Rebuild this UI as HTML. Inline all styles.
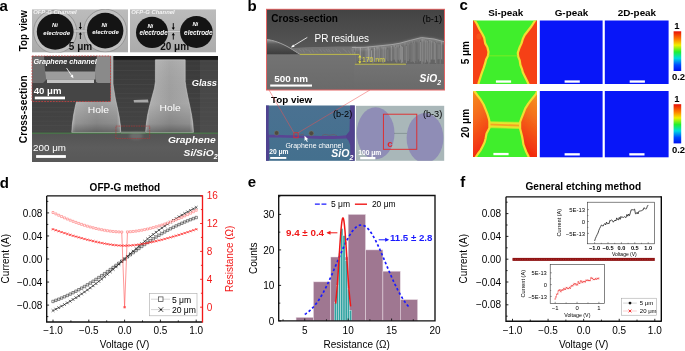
<!DOCTYPE html>
<html><head><meta charset="utf-8"><style>
html,body{margin:0;padding:0;background:#fff;}
svg{display:block;will-change:transform;}
text{font-family:"Liberation Sans",sans-serif;}
</style></head><body>
<svg width="685" height="351" viewBox="0 0 685 351">
<rect width="685" height="351" fill="#fff"/>
<text x="-0.5" y="10.5" font-size="15" fill="#000" font-weight="bold" font-style="normal" text-anchor="start" >a</text>
<text x="247.5" y="10.6" font-size="15" fill="#000" font-weight="bold" font-style="normal" text-anchor="start" >b</text>
<text x="459.5" y="10.3" font-size="15" fill="#000" font-weight="bold" font-style="normal" text-anchor="start" >c</text>
<text x="-0.3" y="187.5" font-size="15" fill="#000" font-weight="bold" font-style="normal" text-anchor="start" >d</text>
<text x="247.7" y="187.3" font-size="15" fill="#000" font-weight="bold" font-style="normal" text-anchor="start" >e</text>
<text x="460.2" y="186.8" font-size="15" fill="#000" font-weight="bold" font-style="normal" text-anchor="start" >f</text>
<text transform="translate(27.3,30.65) scale(1.08,1) rotate(-90)" x="0" y="0" font-size="9.8" fill="#000" font-weight="bold" font-style="normal" text-anchor="middle">Top view</text>
<text transform="translate(27.2,109.2) scale(1.08,1) rotate(-90)" x="0" y="0" font-size="10.2" fill="#000" font-weight="bold" font-style="normal" text-anchor="middle">Cross-section</text>
<defs><linearGradient id="tvbg" x1="0" y1="0" x2="0" y2="1"><stop offset="0" stop-color="#bcbcbc"/><stop offset="1" stop-color="#ababab"/></linearGradient></defs>
<clipPath id="tv32"><rect x="32" y="9.2" width="96" height="43.4"/></clipPath>
<g clip-path="url(#tv32)">
<rect x="32" y="9.2" width="96" height="43.4" fill="url(#tvbg)"/>
<circle cx="55.2" cy="31.7" r="21.599999999999998" fill="#c0c0c0" stroke="#8e8e8e" stroke-width="0.8"/>
<circle cx="105.2" cy="30.6" r="21.4" fill="#c0c0c0" stroke="#8e8e8e" stroke-width="0.8"/>
<rect x="55.2" y="30" width="50.0" height="2" fill="#cfcfcf" stroke="#888" stroke-width="0.4"/>
<ellipse cx="55.2" cy="31.7" rx="18.4" ry="18.0" fill="#141414"/>
<text x="54.9" y="27.4" font-size="5.8" fill="#fff" font-weight="bold" font-style="italic" text-anchor="middle" >Ni</text>
<text x="56.7" y="34.9" font-size="6.0" fill="#fff" font-weight="bold" font-style="italic" text-anchor="middle" >electrode</text>
<ellipse cx="105.2" cy="30.6" rx="18.2" ry="17.8" fill="#141414"/>
<text x="104.3" y="26.9" font-size="5.8" fill="#fff" font-weight="bold" font-style="italic" text-anchor="middle" >Ni</text>
<text x="105.5" y="34.2" font-size="6.0" fill="#fff" font-weight="bold" font-style="italic" text-anchor="middle" >electrode</text>
<text x="33.2" y="14.4" font-size="5.9" fill="#f4f4f4" font-weight="bold" font-style="italic" text-anchor="start" >OFP-G Channel</text>
</g>
<path d="M80.4,22.5 v5.5 M80.4,39 v-5.5" stroke="#000" stroke-width="0.9" fill="none"/>
<path d="M78.80000000000001,27 L80.4,29.4 L82.0,27 Z M78.80000000000001,34.6 L80.4,32.2 L82.0,34.6 Z" fill="#000"/>
<text x="68.8" y="49.6" font-size="10" fill="#111" font-weight="bold" font-style="normal" text-anchor="start" >5 μm</text>
<clipPath id="tv130"><rect x="130" y="9.2" width="86" height="43.4"/></clipPath>
<g clip-path="url(#tv130)">
<rect x="130" y="9.2" width="86" height="43.4" fill="url(#tvbg)"/>
<rect x="152" y="30.6" width="44.400000000000006" height="2" fill="#cfcfcf" stroke="#888" stroke-width="0.4"/>
<ellipse cx="152" cy="32.4" rx="16" ry="15.6" fill="#141414"/>
<text x="150.3" y="27.6" font-size="5.8" fill="#fff" font-weight="bold" font-style="italic" text-anchor="middle" >Ni</text>
<text x="153.6" y="34.9" font-size="6.4" fill="#fff" font-weight="bold" font-style="italic" text-anchor="middle" >electrode</text>
<ellipse cx="196.4" cy="32" rx="16.3" ry="15.9" fill="#141414"/>
<text x="195.3" y="26.4" font-size="5.8" fill="#fff" font-weight="bold" font-style="italic" text-anchor="middle" >Ni</text>
<text x="198.3" y="34.8" font-size="6.4" fill="#fff" font-weight="bold" font-style="italic" text-anchor="middle" >electrode</text>
<text x="131.2" y="14.4" font-size="5.9" fill="#f4f4f4" font-weight="bold" font-style="italic" text-anchor="start" >OFP-G Channel</text>
</g>
<path d="M173.3,23.1 v5.5 M173.3,39.6 v-5.5" stroke="#000" stroke-width="0.9" fill="none"/>
<path d="M171.70000000000002,27.6 L173.3,30.0 L174.9,27.6 Z M171.70000000000002,35.2 L173.3,32.800000000000004 L174.9,35.2 Z" fill="#000"/>
<text x="160.2" y="49.6" font-size="10" fill="#111" font-weight="bold" font-style="normal" text-anchor="start" >20 μm</text>
<defs>
<filter id="blur2" x="-50%" y="-50%" width="200%" height="200%"><feGaussianBlur stdDeviation="1.5"/></filter>
<linearGradient id="glass" x1="0" y1="0" x2="0" y2="1">
<stop offset="0" stop-color="#393939"/><stop offset="0.6" stop-color="#434343"/><stop offset="1" stop-color="#4c4c4c"/></linearGradient>
<linearGradient id="sub" x1="0" y1="0" x2="0" y2="1">
<stop offset="0" stop-color="#545454"/><stop offset="0.5" stop-color="#5c5c5c"/><stop offset="1" stop-color="#585858"/></linearGradient>
<linearGradient id="pill" x1="0" y1="0" x2="1" y2="0">
<stop offset="0" stop-color="#d6d6d6"/><stop offset="0.08" stop-color="#b4b4b4"/><stop offset="0.5" stop-color="#a2a2a2"/><stop offset="0.92" stop-color="#acacac"/><stop offset="1" stop-color="#dadada"/></linearGradient>
<linearGradient id="pillv" x1="0" y1="0" x2="0" y2="1">
<stop offset="0" stop-color="#fff" stop-opacity="0.08"/><stop offset="0.6" stop-color="#000" stop-opacity="0.02"/><stop offset="0.88" stop-color="#000" stop-opacity="0.18"/><stop offset="1" stop-color="#000" stop-opacity="0.4"/></linearGradient>
</defs>
<rect x="32" y="56" width="186" height="106" fill="url(#glass)"/>
<rect x="32" y="56" width="186" height="3.8" fill="#171717"/>
<rect x="32" y="61.0" width="186" height="0.7" fill="#626262" opacity="0.15"/>
<rect x="32" y="65.6" width="186" height="0.7" fill="#626262" opacity="0.22"/>
<rect x="32" y="70.2" width="186" height="0.7" fill="#626262" opacity="0.30"/>
<rect x="32" y="74.8" width="186" height="0.7" fill="#626262" opacity="0.15"/>
<rect x="32" y="79.4" width="186" height="0.7" fill="#626262" opacity="0.22"/>
<rect x="32" y="84.0" width="186" height="0.7" fill="#626262" opacity="0.30"/>
<rect x="32" y="88.6" width="186" height="0.7" fill="#626262" opacity="0.15"/>
<rect x="32" y="93.2" width="186" height="0.7" fill="#626262" opacity="0.22"/>
<rect x="32" y="97.8" width="186" height="0.7" fill="#626262" opacity="0.30"/>
<rect x="32" y="102.4" width="186" height="0.7" fill="#626262" opacity="0.15"/>
<rect x="32" y="107.0" width="186" height="0.7" fill="#626262" opacity="0.22"/>
<rect x="32" y="111.6" width="186" height="0.7" fill="#626262" opacity="0.30"/>
<rect x="32" y="116.2" width="186" height="0.7" fill="#626262" opacity="0.15"/>
<rect x="32" y="120.8" width="186" height="0.7" fill="#626262" opacity="0.22"/>
<rect x="32" y="125.4" width="186" height="0.7" fill="#626262" opacity="0.30"/>
<rect x="32" y="130.0" width="186" height="0.7" fill="#626262" opacity="0.15"/>
<rect x="200" y="60" width="18" height="73" fill="#5a5a5a" opacity="0.35"/>
<rect x="32" y="133.5" width="186" height="28.5" fill="url(#sub)"/>
<path d="M80,56 L80,84 L79.2,90 L77.6,97 L75.4,106 L73.6,115 L72.4,124 L71.8,132.5 L120.7,132.5 L120.3,125 L119.2,117 L117.4,108 L115.4,99 L113.9,90 L113,84 L113,56 Z" fill="url(#pill)"/>
<path d="M80,56 L80,84 L79.2,90 L77.6,97 L75.4,106 L73.6,115 L72.4,124 L71.8,132.5 L120.7,132.5 L120.3,125 L119.2,117 L117.4,108 L115.4,99 L113.9,90 L113,84 L113,56 Z" fill="url(#pillv)" stroke="#cfcfcf" stroke-width="0.7" stroke-opacity="0.8"/>
<path d="M155.4,59.8 L155.4,81.6 L154.5,88 L152.3,96 L149.6,106 L147.5,115.5 L146.3,124 L145.7,132.5 L193.4,132.5 L192.9,124 L191.7,115.5 L189.8,106 L187.6,96 L186.1,88 L185.2,81.6 L185.2,59.8 Z" fill="url(#pill)"/>
<path d="M155.4,59.8 L155.4,81.6 L154.5,88 L152.3,96 L149.6,106 L147.5,115.5 L146.3,124 L145.7,132.5 L193.4,132.5 L192.9,124 L191.7,115.5 L189.8,106 L187.6,96 L186.1,88 L185.2,81.6 L185.2,59.8 Z" fill="url(#pillv)" stroke="#cfcfcf" stroke-width="0.7" stroke-opacity="0.8"/>
<path d="M133.6,100 L148,99.6 L148.5,102.4 L134,102.6 Z" fill="#a8a8a8"/>
<rect x="32" y="132.7" width="186" height="0.9" fill="#4a8a4a"/>
<path d="M121,131.6 L145.5,131.6 L145.5,133.4 L121,133.4 Z" fill="#8a9a8a" opacity="0.8"/>
<ellipse cx="136" cy="136" rx="7" ry="3.5" fill="#8a8a8a" opacity="0.45" filter="url(#blur2)"/>
<rect x="115.9" y="126.1" width="33.8" height="12.4" fill="none" stroke="#b83232" stroke-width="0.6" stroke-dasharray="1.6,0.9"/>
<text transform="translate(87.7,113.1) scale(1.1,1)" x="0" y="0" font-size="9.4" fill="#fff" font-weight="normal" font-style="normal" text-anchor="start" >Hole</text>
<text transform="translate(159.6,111.4) scale(1.1,1)" x="0" y="0" font-size="9.4" fill="#fff" font-weight="normal" font-style="normal" text-anchor="start" >Hole</text>
<text x="217" y="86.3" font-size="9.3" fill="#fff" font-weight="bold" font-style="italic" text-anchor="end" >Glass</text>
<text transform="translate(215.6,143.4) scale(1.1,1)" x="0" y="0" font-size="9.3" fill="#fff" font-weight="bold" font-style="italic" text-anchor="end" >Graphene</text>
<text transform="translate(183.6,156.2) scale(1.1,1)" x="0" y="0" font-size="9.3" fill="#fff" font-weight="bold" font-style="italic" text-anchor="start" >Si/SiO<tspan font-size="6.5" dy="2.6">2</tspan></text>
<text x="33.1" y="151.2" font-size="9.8" fill="#fff" font-weight="normal" font-style="normal" text-anchor="start" >200 μm</text>
<rect x="36.1" y="155.1" width="29.8" height="2.8" fill="#fff"/>
<defs><linearGradient id="insbg" x1="0" y1="0" x2="0" y2="1"><stop offset="0" stop-color="#3a3a3a"/><stop offset="1" stop-color="#4a4a4a"/></linearGradient></defs>
<rect x="32" y="56" width="78.5" height="45.5" fill="url(#insbg)"/>
<path d="M32,56 L44,56 L45,70 L46,80 L40,86 L32,90 Z" fill="#6e6e6e"/>
<path d="M97,56 L110.5,56 L110.5,92 L103,86 L96,82 L95,70 Z" fill="#8a8a8a"/>
<path d="M45,71.5 L95.5,71.5 L95.5,79.5 L46,79.5 Z" fill="#9c9c9c"/>
<path d="M47,79.5 L94,79.5 L94,83 L47,83 Z" fill="#c2c2c2"/>
<path d="M32,83 L110.5,83 L110.5,101.5 L32,101.5 Z" fill="#454545"/>
<rect x="32" y="56" width="78.5" height="45.5" fill="none" stroke="#c84040" stroke-width="0.8" stroke-dasharray="1.8,1.1"/>
<text transform="translate(33.4,63.8) scale(1.04,1)" x="0" y="0" font-size="7" fill="#fff" font-weight="bold" font-style="italic" text-anchor="start" >Graphene channel</text>
<path d="M66.5,68 L72.6,77" stroke="#fff" stroke-width="0.8" fill="none"/><path d="M73.4,78.2 L70.4,76.2 L72.9,74.6 Z" fill="#fff"/>
<text x="33.7" y="93.6" font-size="9.6" fill="#fff" font-weight="bold" font-style="normal" text-anchor="start" >40 μm</text>
<rect x="34.8" y="96.6" width="30.2" height="2.7" fill="#fff"/>
<defs>
<linearGradient id="b1top" x1="0" y1="0" x2="0" y2="1">
<stop offset="0" stop-color="#434343"/><stop offset="0.35" stop-color="#505050"/><stop offset="0.75" stop-color="#636363"/><stop offset="1" stop-color="#6e6e6e"/></linearGradient>
<linearGradient id="b1bot" x1="0" y1="0" x2="0" y2="1">
<stop offset="0" stop-color="#737373"/><stop offset="1" stop-color="#6a6a6a"/></linearGradient>
<pattern id="stri" x="0" y="0" width="2.6" height="30" patternUnits="userSpaceOnUse">
<rect width="2.6" height="30" fill="#6e6e6e"/><rect x="0.3" width="1.2" height="30" fill="#989898"/></pattern>
<linearGradient id="resL" x1="0" y1="0" x2="0" y2="1">
<stop offset="0" stop-color="#9a9a9a"/><stop offset="0.3" stop-color="#5a5a5a"/><stop offset="1" stop-color="#3c3c3c"/></linearGradient>
</defs>
<rect x="266.5" y="9" width="178" height="81" fill="url(#b1top)"/>
<path d="M290,48 C310,47 330,46.5 356,46.5 L356,54.4 L290,54.4 Z" fill="#747474"/>
<path d="M266.5,39.5 C273,40 281,43 289,47.5 C294,50.5 297,52.6 300,54.4 L266.5,54.4 Z" fill="url(#resL)"/>
<path d="M266.5,39.5 C273,40 281,43 289,47.5 C294,50.5 297,52.6 300,54.4" fill="none" stroke="#a0a0a0" stroke-width="1"/>
<path d="M352,47.5 L365,47.3 L380,45.8 L392,44.6 L400,43.2 L410.3,40.4 L421.5,37.6 L434,39 L444.5,41.8 L444.5,64 L354,64 Z" fill="#646464"/>
<path d="M353.0,48.6 V62.2" stroke="#9b9b9b" stroke-width="0.75"/><path d="M354.4,51.6 V63.9" stroke="#9d9d9d" stroke-width="0.63"/><path d="M355.8,47.7 V63.2" stroke="#9d9d9d" stroke-width="0.59"/><path d="M357.3,49.9 V61.1" stroke="#8c8c8c" stroke-width="0.41"/><path d="M358.2,48.2 V59.7" stroke="#858585" stroke-width="0.59"/><path d="M359.5,48.0 V60.9" stroke="#787878" stroke-width="0.46"/><path d="M360.3,47.4 V60.1" stroke="#ababab" stroke-width="0.88"/><path d="M361.3,48.7 V59.2" stroke="#7e7e7e" stroke-width="0.67"/><path d="M362.5,48.2 V59.2" stroke="#818181" stroke-width="0.50"/><path d="M364.0,48.7 V62.2" stroke="#8c8c8c" stroke-width="0.48"/><path d="M364.9,48.8 V59.9" stroke="#787878" stroke-width="0.69"/><path d="M366.1,48.7 V62.5" stroke="#a1a1a1" stroke-width="0.81"/><path d="M367.3,47.9 V61.6" stroke="#888888" stroke-width="0.49"/><path d="M368.2,47.1 V60.3" stroke="#b0b0b0" stroke-width="0.82"/><path d="M369.1,48.8 V62.1" stroke="#a6a6a6" stroke-width="0.82"/><path d="M370.2,47.6 V59.2" stroke="#a1a1a1" stroke-width="0.50"/><path d="M371.5,50.3 V61.7" stroke="#afafaf" stroke-width="0.66"/><path d="M372.9,50.0 V63.5" stroke="#848484" stroke-width="0.77"/><path d="M374.3,47.7 V61.8" stroke="#ababab" stroke-width="0.89"/><path d="M375.2,49.0 V59.4" stroke="#949494" stroke-width="0.57"/><path d="M376.7,46.5 V60.6" stroke="#969696" stroke-width="0.55"/><path d="M378.0,46.7 V60.6" stroke="#9c9c9c" stroke-width="0.90"/><path d="M379.0,46.3 V61.0" stroke="#777777" stroke-width="0.86"/><path d="M379.8,48.5 V59.9" stroke="#a3a3a3" stroke-width="0.63"/><path d="M380.9,50.1 V60.8" stroke="#777777" stroke-width="0.80"/><path d="M381.9,46.2 V60.3" stroke="#818181" stroke-width="0.87"/><path d="M383.1,47.3 V63.2" stroke="#a6a6a6" stroke-width="0.59"/><path d="M384.0,46.7 V61.7" stroke="#8e8e8e" stroke-width="0.90"/><path d="M385.4,47.3 V61.6" stroke="#959595" stroke-width="0.76"/><path d="M386.5,47.3 V59.5" stroke="#868686" stroke-width="0.46"/><path d="M387.9,49.3 V60.9" stroke="#969696" stroke-width="0.65"/><path d="M388.9,47.1 V61.4" stroke="#797979" stroke-width="0.67"/><path d="M390.1,48.3 V60.1" stroke="#787878" stroke-width="0.75"/><path d="M391.3,46.0 V61.2" stroke="#a4a4a4" stroke-width="0.73"/><path d="M392.7,47.9 V60.5" stroke="#848484" stroke-width="0.55"/><path d="M394.2,45.0 V59.7" stroke="#9d9d9d" stroke-width="0.64"/><path d="M395.5,47.0 V61.7" stroke="#888888" stroke-width="0.81"/><path d="M396.8,45.4 V62.6" stroke="#a7a7a7" stroke-width="0.57"/><path d="M398.2,45.1 V59.8" stroke="#8e8e8e" stroke-width="0.83"/><path d="M399.5,47.6 V61.4" stroke="#8b8b8b" stroke-width="0.66"/><path d="M400.4,44.7 V59.7" stroke="#a9a9a9" stroke-width="0.54"/><path d="M401.3,46.1 V63.1" stroke="#9e9e9e" stroke-width="0.79"/><path d="M402.5,46.7 V62.5" stroke="#9e9e9e" stroke-width="0.68"/><path d="M403.9,45.4 V63.9" stroke="#858585" stroke-width="0.48"/><path d="M405.0,42.6 V60.2" stroke="#9d9d9d" stroke-width="0.49"/><path d="M406.3,45.9 V63.2" stroke="#929292" stroke-width="0.85"/><path d="M407.2,43.4 V61.3" stroke="#7f7f7f" stroke-width="0.61"/><path d="M408.2,43.7 V61.0" stroke="#9e9e9e" stroke-width="0.52"/><path d="M409.7,42.1 V59.2" stroke="#747474" stroke-width="0.83"/><path d="M411.1,43.9 V62.1" stroke="#a0a0a0" stroke-width="0.42"/><path d="M412.3,41.2 V61.4" stroke="#7a7a7a" stroke-width="0.88"/><path d="M413.3,43.3 V61.9" stroke="#8a8a8a" stroke-width="0.81"/><path d="M414.6,41.4 V63.2" stroke="#8b8b8b" stroke-width="0.59"/><path d="M415.7,43.4 V61.0" stroke="#808080" stroke-width="0.58"/><path d="M417.1,40.4 V62.4" stroke="#747474" stroke-width="0.86"/><path d="M418.3,41.2 V59.5" stroke="#888888" stroke-width="0.59"/><path d="M419.4,40.3 V61.6" stroke="#828282" stroke-width="0.75"/><path d="M420.5,42.0 V61.0" stroke="#aaaaaa" stroke-width="0.53"/><path d="M422.0,38.8 V63.9" stroke="#939393" stroke-width="0.87"/><path d="M423.0,39.1 V61.6" stroke="#afafaf" stroke-width="0.46"/><path d="M424.2,39.0 V63.8" stroke="#909090" stroke-width="0.47"/><path d="M425.3,40.4 V62.6" stroke="#929292" stroke-width="0.87"/><path d="M426.6,40.4 V59.8" stroke="#838383" stroke-width="0.76"/><path d="M427.6,41.0 V61.6" stroke="#939393" stroke-width="0.72"/><path d="M428.9,42.5 V63.9" stroke="#a3a3a3" stroke-width="0.46"/><path d="M429.9,40.0 V62.5" stroke="#a1a1a1" stroke-width="0.66"/><path d="M431.0,41.7 V59.9" stroke="#8b8b8b" stroke-width="0.47"/><path d="M431.8,40.8 V59.4" stroke="#979797" stroke-width="0.84"/><path d="M433.0,40.8 V60.0" stroke="#747474" stroke-width="0.70"/><path d="M434.2,42.0 V59.7" stroke="#9c9c9c" stroke-width="0.82"/><path d="M435.4,43.2 V63.0" stroke="#9f9f9f" stroke-width="0.55"/><path d="M436.8,41.1 V64.0" stroke="#787878" stroke-width="0.79"/><path d="M438.0,43.6 V59.4" stroke="#9d9d9d" stroke-width="0.47"/><path d="M439.1,44.4 V59.1" stroke="#979797" stroke-width="0.67"/><path d="M440.2,44.3 V63.7" stroke="#969696" stroke-width="0.52"/><path d="M441.6,41.3 V59.3" stroke="#a6a6a6" stroke-width="0.57"/><path d="M442.7,45.8 V60.5" stroke="#787878" stroke-width="0.42"/>
<path d="M352,48.5 L365,48.3 L380,46.8 L392,45.6 L400,44.2 L410.3,41.4 L421.5,38.6 L434,40 L444.5,42.8" fill="none" stroke="#b0b0b0" stroke-width="2" opacity="0.7" filter="url(#blur2)"/>
<path d="M352,47.5 L365,47.3 L380,45.8 L392,44.6 L400,43.2 L410.3,40.4 L421.5,37.6 L434,39 L444.5,41.8" fill="none" stroke="#a8a8a8" stroke-width="0.9"/>
<path d="M295.6,49.8 l2.9,3.4" stroke="#8a8a8a" stroke-width="0.6"/>
<path d="M298.7,49.1 l2.9,2.3" stroke="#8a8a8a" stroke-width="0.6"/>
<path d="M302.8,49.3 l1.7,3.2" stroke="#8a8a8a" stroke-width="0.6"/>
<path d="M305.2,48.7 l2.1,2.1" stroke="#8a8a8a" stroke-width="0.6"/>
<path d="M308.5,49.7 l2.6,3.8" stroke="#8a8a8a" stroke-width="0.6"/>
<path d="M311.9,49.4 l2.0,3.2" stroke="#8a8a8a" stroke-width="0.6"/>
<path d="M315.8,50.4 l2.1,2.1" stroke="#8a8a8a" stroke-width="0.6"/>
<path d="M319.4,48.8 l2.4,3.0" stroke="#8a8a8a" stroke-width="0.6"/>
<path d="M323.1,49.6 l2.4,2.5" stroke="#8a8a8a" stroke-width="0.6"/>
<path d="M325.8,49.0 l2.6,3.0" stroke="#8a8a8a" stroke-width="0.6"/>
<path d="M328.4,49.0 l2.1,3.5" stroke="#8a8a8a" stroke-width="0.6"/>
<path d="M331.8,49.9 l2.5,2.2" stroke="#8a8a8a" stroke-width="0.6"/>
<path d="M335.9,48.7 l1.7,3.2" stroke="#8a8a8a" stroke-width="0.6"/>
<path d="M338.5,50.3 l2.2,2.6" stroke="#8a8a8a" stroke-width="0.6"/>
<path d="M342.7,48.6 l2.6,2.1" stroke="#8a8a8a" stroke-width="0.6"/>
<path d="M344.9,50.4 l2.5,2.4" stroke="#8a8a8a" stroke-width="0.6"/>
<path d="M348.2,50.4 l2.5,3.6" stroke="#8a8a8a" stroke-width="0.6"/>
<path d="M351.5,49.7 l2.0,2.5" stroke="#8a8a8a" stroke-width="0.6"/>
<rect x="266.5" y="54.4" width="89" height="35.6" fill="url(#b1bot)"/>
<rect x="354" y="64" width="90.5" height="26" fill="url(#b1bot)"/>
<path d="M299.8,54.4 H359.4 M354.9,64.2 H406" stroke="#e2dc3c" stroke-width="0.7"/>
<path d="M359.8,55.6 V63" stroke="#e2dc3c" stroke-width="0.7" fill="none"/><path d="M358.2,57.6 L359.8,55 L361.4,57.6 Z M358.2,61.2 L359.8,63.8 L361.4,61.2 Z" fill="#e2dc3c"/>
<text x="361.9" y="61.7" font-size="6.9" fill="#e2dc3c" font-weight="normal" font-style="normal" text-anchor="start" >170 nm</text>
<rect x="266.5" y="9.3" width="178" height="80.7" fill="none" stroke="#e46464" stroke-width="1"/>
<text x="271.3" y="21.5" font-size="10" fill="#000" font-weight="bold" font-style="normal" text-anchor="start" >Cross-section</text>
<text x="442" y="21.5" font-size="9.2" fill="#000" font-weight="normal" font-style="normal" text-anchor="end" >(b-1)</text>
<text x="314.5" y="42" font-size="10" fill="#fff" font-weight="normal" font-style="normal" text-anchor="start" >PR residues</text>
<path d="M307.3,37.4 L292.5,46.4" stroke="#fff" stroke-width="0.8" fill="none"/><path d="M290.8,47.5 L293.2,44.4 L294.6,46.8 Z" fill="#fff"/>
<text transform="translate(274.2,81.9) scale(1.12,1)" x="0" y="0" font-size="8.8" fill="#fff" font-weight="bold" font-style="normal" text-anchor="start" >500 nm</text>
<rect x="270.2" y="84.5" width="41.8" height="2.1" fill="#fff"/>
<text x="419.6" y="82.4" font-size="10.2" fill="#fff" font-weight="bold" font-style="italic" text-anchor="start" >SiO<tspan font-size="6.8" dy="2.6">2</tspan></text>
<text x="271" y="103.1" font-size="9.8" fill="#000" font-weight="bold" font-style="normal" text-anchor="start" >Top view</text>
<defs><linearGradient id="b2bg" x1="0" y1="0" x2="0" y2="1"><stop offset="0" stop-color="#4a7191"/><stop offset="1" stop-color="#44708e"/></linearGradient></defs>
<rect x="266" y="105.5" width="88.7" height="55.3" fill="url(#b2bg)"/>
<path d="M266,105.5 L268.8,105.5 L268.6,130 L269.4,145 L268.8,160.8 L266,160.8 Z" fill="#4f4290"/>
<path d="M350.2,105.5 L354.7,105.5 L354.7,160.8 L350.4,160.8 L350.2,145 L348.5,140.5 L346,138 L346,135.5 L349.5,131 Z" fill="#52428e"/>
<path d="M269,134.7 C285,135 300,135.4 320,136 C330,136.3 338,136 346,135.2 L346,138.6 C335,139.2 325,139 310,138.4 C295,138 282,137.8 269,137.6 Z" fill="#5a4494"/>
<path d="M322,135.5 l3,-1.2 l4,1 l5,-0.8 l3,1.2 M300,135 l4,-0.8" stroke="#6a5a6a" stroke-width="0.8" fill="none"/>
<circle cx="276.6" cy="133" r="2.3" fill="#4e4a40" stroke="#7a7868" stroke-width="0.5"/><circle cx="311.3" cy="133.3" r="2.4" fill="#4e4a40" stroke="#7a7868" stroke-width="0.5"/>
<rect x="293.9" y="132.8" width="4.2" height="5" fill="none" stroke="#e82828" stroke-width="0.8"/>
<path d="M269,90 L293.9,132.8 M369.9,90 L298.1,132.8" stroke="#ee5050" stroke-width="0.5"/>
<path d="M304.5,135.8 L304.6,141 L305.8,139.8 L307,142 L307.8,141.6 L306.7,139.4 L308.3,139.2 Z" fill="#fff"/>
<text x="352.3" y="117.3" font-size="9.2" fill="#000" font-weight="normal" font-style="normal" text-anchor="end" >(b-2)</text>
<text x="285.4" y="148.4" font-size="7" fill="#fff" font-weight="normal" font-style="normal" text-anchor="start" >Graphene channel</text>
<text x="269.2" y="154.4" font-size="6.7" fill="#fff" font-weight="bold" font-style="normal" text-anchor="start" >20 μm</text>
<rect x="270.2" y="157" width="16.1" height="1.9" fill="#fff"/>
<text x="331.3" y="157.2" font-size="10.5" fill="#fff" font-weight="bold" font-style="italic" text-anchor="start" >SiO<tspan font-size="7" dy="2.6">2</tspan></text>
<rect x="356" y="105.8" width="88.2" height="55" fill="#a9b7b9"/>
<clipPath id="b3c"><rect x="356" y="105.8" width="88.2" height="55"/></clipPath>
<g clip-path="url(#b3c)"><ellipse cx="375.6" cy="133.3" rx="18.9" ry="26" fill="#8f8db6"/><ellipse cx="425" cy="138" rx="18.4" ry="25" fill="#8f8db6"/></g>
<path d="M394,133.4 H407" stroke="#6f7f80" stroke-width="0.6"/>
<rect x="383.4" y="114.2" width="33.4" height="35.1" fill="none" stroke="#e42626" stroke-width="0.9"/>
<text x="387.2" y="147" font-size="9.6" fill="#e42626" font-weight="bold" font-style="normal" text-anchor="start" >c</text>
<text x="442.3" y="117.3" font-size="9.2" fill="#000" font-weight="normal" font-style="normal" text-anchor="end" >(b-3)</text>
<text x="358.2" y="154.7" font-size="6.7" fill="#fff" font-weight="bold" font-style="normal" text-anchor="start" >100 μm</text>
<rect x="360.2" y="157" width="15.2" height="2.3" fill="#fff"/>
<defs>
<filter id="soft" x="-5%" y="-5%" width="110%" height="110%"><feGaussianBlur stdDeviation="0.7"/></filter>
<filter id="soft2" x="-5%" y="-5%" width="110%" height="110%"><feGaussianBlur stdDeviation="0.5"/></filter>
<linearGradient id="red20L" x1="0" y1="0" x2="0.3" y2="1">
<stop offset="0" stop-color="#f79a22"/><stop offset="0.5" stop-color="#f56a1c"/><stop offset="1" stop-color="#f22a10"/></linearGradient>
<linearGradient id="red20R" x1="1" y1="0" x2="0.7" y2="1">
<stop offset="0" stop-color="#f7a826"/><stop offset="0.5" stop-color="#f4701c"/><stop offset="1" stop-color="#f22a10"/></linearGradient>
<clipPath id="cm1"><rect x="473" y="20.5" width="64" height="63.5"/></clipPath>
<clipPath id="cm2"><rect x="473" y="91" width="64" height="66"/></clipPath>
</defs>
<rect x="473" y="20.5" width="64" height="63.5" fill="#40ee2c"/>
<g clip-path="url(#cm1)"><g filter="url(#soft)"><path d="M474.2,17 L474.8,20.5 L477,24 L479.5,29.3 L482.3,34 L484.2,37.8 L485.2,43.4 L487.4,47.2 L488.5,51.9 L488,55.7 L486.1,59.4 L485.2,63.2 L483.7,67.9 L482.3,71.6 L481,75.4 L479.5,80.1 L478.6,82.9 L478.2,87 L465,87 L465,17 Z" fill="#f64018" stroke="#f0e030" stroke-width="2.2" stroke-linejoin="round"/><path d="M536,17 L535.1,20.5 L531.3,26.5 L527.6,31.2 L524.7,35 L522.9,38.7 L521.5,43.4 L519.7,47.2 L517.8,52.8 L518.2,56.6 L519.7,60.4 L520.4,65 L521.9,68.8 L522.9,72.6 L524.7,76.3 L526.6,80.1 L528.5,83.9 L529.3,87 L545,87 L545,17 Z" fill="#f64018" stroke="#f0e030" stroke-width="2.2" stroke-linejoin="round"/><path d="M488,55.8 H518" stroke="#a8ec20" stroke-width="1.1" opacity="0.5"/></g></g>
<ellipse cx="479" cy="36.5" rx="2.6" ry="3" fill="#f87a20" opacity="0.35" filter="url(#soft)"/>
<rect x="473" y="91" width="64" height="66" fill="#40ee2c"/>
<g clip-path="url(#cm2)"><g filter="url(#soft)"><path d="M488,121.8 L521,122.4 L521,128.4 L488,127.6 Z" fill="#e8e42e" stroke="#c8ea30" stroke-width="0.8"/><path d="M488,124.4 L521,125.6" stroke="#f4a424" stroke-width="1.8"/><path d="M471,87 L474.3,91 L477.8,95.8 L480.7,99.7 L483.6,104.5 L485.6,109.4 L487.5,114.2 L489,119.1 L489.4,121.5 L489.4,128 L488.5,129.7 L486.5,133.6 L485.6,138.4 L484.6,142.3 L482.7,146.2 L480.7,150.1 L477.8,154 L475.9,156.9 L474.5,160 L465,160 L465,86 Z" fill="url(#red20L)" stroke="#f0e030" stroke-width="2.2" stroke-linejoin="round"/><path d="M538.5,88 L536,93.9 L532.1,98.7 L528.3,103.6 L525.3,108.4 L523.4,113.3 L521.5,118.1 L520.1,122 L520.1,128.8 L520.9,131.7 L522.1,136.5 L522.8,140.4 L523.4,144.3 L524.8,148.1 L526.3,152 L528.3,155.9 L529.5,160 L545,160 L545,86 Z" fill="url(#red20R)" stroke="#f0e030" stroke-width="2.2" stroke-linejoin="round"/></g></g>
<rect x="539.8" y="20.5" width="62.8" height="63.5" fill="#0816f8"/>
<rect x="604.8" y="20.5" width="63.8" height="63.5" fill="#0816f8"/>
<rect x="539.8" y="91" width="62.8" height="66.3" fill="#0816f8"/>
<rect x="604.8" y="91" width="63.8" height="66.3" fill="#0816f8"/>
<rect x="495.9" y="80.4" width="15.2" height="2.3" fill="#fff"/>
<rect x="564.6" y="80.4" width="15.2" height="2.3" fill="#fff"/>
<rect x="629.6999999999999" y="80.4" width="15.2" height="2.3" fill="#fff"/>
<rect x="493.4" y="152.9" width="15.2" height="2.3" fill="#fff"/>
<rect x="564.6" y="153.2" width="15.2" height="2.3" fill="#fff"/>
<rect x="629.3" y="153.2" width="15.2" height="2.3" fill="#fff"/>
<text x="505.7" y="16.3" font-size="9.9" fill="#000" font-weight="bold" font-style="normal" text-anchor="middle" >Si-peak</text>
<text x="571.4" y="16.3" font-size="9.9" fill="#000" font-weight="bold" font-style="normal" text-anchor="middle" >G-peak</text>
<text x="636.9" y="16.3" font-size="9.9" fill="#000" font-weight="bold" font-style="normal" text-anchor="middle" >2D-peak</text>
<text transform="translate(469,52.7) scale(1.1,1) rotate(-90)" x="0" y="0" font-size="10" fill="#000" font-weight="bold" font-style="normal" text-anchor="middle">5 μm</text>
<text transform="translate(469,123.4) scale(1.1,1) rotate(-90)" x="0" y="0" font-size="10" fill="#000" font-weight="bold" font-style="normal" text-anchor="middle">20 μm</text>
<defs><linearGradient id="jet" x1="0" y1="1" x2="0" y2="0">
<stop offset="0" stop-color="#0010f0"/><stop offset="0.15" stop-color="#0048ff"/><stop offset="0.32" stop-color="#00dce0"/><stop offset="0.48" stop-color="#20f030"/><stop offset="0.65" stop-color="#f0f000"/><stop offset="0.8" stop-color="#ff8000"/><stop offset="1" stop-color="#e81008"/></linearGradient></defs>
<rect x="673.6" y="31.3" width="7.6" height="39.7" fill="url(#jet)"/>
<text x="677" y="29.400000000000002" font-size="9.5" fill="#000" font-weight="bold" font-style="normal" text-anchor="middle" >1</text>
<text x="678.5" y="80.2" font-size="9.5" fill="#000" font-weight="bold" font-style="normal" text-anchor="middle" >0.2</text>
<rect x="673.6" y="104.2" width="7.6" height="39.2" fill="url(#jet)"/>
<text x="677" y="102.3" font-size="9.5" fill="#000" font-weight="bold" font-style="normal" text-anchor="middle" >1</text>
<text x="678.5" y="152.6" font-size="9.5" fill="#000" font-weight="bold" font-style="normal" text-anchor="middle" >0.2</text>
<path d="M46.7,195.9 H202.5 M46.7,195.9 V322.0 H202.5" stroke="#111" stroke-width="1.35" fill="none"/>
<path d="M202.5,195.35 V322.55" stroke="#f21818" stroke-width="1.35" fill="none"/>
<path d="M46.7,316.62 H48.300000000000004 M46.7,305.10 H49.1 M46.7,293.57 H48.300000000000004 M46.7,282.05 H49.1 M46.7,270.52 H48.300000000000004 M46.7,259.00 H49.1 M46.7,247.47 H48.300000000000004 M46.7,235.95 H49.1 M46.7,224.43 H48.300000000000004 M46.7,212.90 H49.1 M46.7,201.38 H48.300000000000004" stroke="#111" stroke-width="0.9"/>
<text x="42.3" y="216.5" font-size="10" fill="#000" font-weight="normal" font-style="normal" text-anchor="end" >0.08</text>
<text x="42.3" y="239.54999999999998" font-size="10" fill="#000" font-weight="normal" font-style="normal" text-anchor="end" >0.04</text>
<text x="42.3" y="262.6" font-size="10" fill="#000" font-weight="normal" font-style="normal" text-anchor="end" >0.00</text>
<text x="42.3" y="285.65000000000003" font-size="10" fill="#000" font-weight="normal" font-style="normal" text-anchor="end" >−0.04</text>
<text x="42.3" y="308.70000000000005" font-size="10" fill="#000" font-weight="normal" font-style="normal" text-anchor="end" >−0.08</text>
<path d="M53.00,322.0 V319.6 M70.90,322.0 V320.4 M88.80,322.0 V319.6 M106.70,322.0 V320.4 M124.60,322.0 V319.6 M142.50,322.0 V320.4 M160.40,322.0 V319.6 M178.30,322.0 V320.4 M196.20,322.0 V319.6" stroke="#111" stroke-width="0.9"/>
<text x="53.0" y="334.3" font-size="10" fill="#000" font-weight="normal" font-style="normal" text-anchor="middle" >−1.0</text>
<text x="88.8" y="334.3" font-size="10" fill="#000" font-weight="normal" font-style="normal" text-anchor="middle" >−0.5</text>
<text x="124.6" y="334.3" font-size="10" fill="#000" font-weight="normal" font-style="normal" text-anchor="middle" >0.0</text>
<text x="160.4" y="334.3" font-size="10" fill="#000" font-weight="normal" font-style="normal" text-anchor="middle" >0.5</text>
<text x="196.2" y="334.3" font-size="10" fill="#000" font-weight="normal" font-style="normal" text-anchor="middle" >1.0</text>
<path d="M202.5,307.20 H200.1 M202.5,293.25 H200.9 M202.5,279.30 H200.1 M202.5,265.35 H200.9 M202.5,251.40 H200.1 M202.5,237.45 H200.9 M202.5,223.50 H200.1 M202.5,209.55 H200.9 M202.5,195.60 H200.1" stroke="#f21818" stroke-width="0.9"/>
<text x="206.8" y="310.8" font-size="10" fill="#f21818" font-weight="normal" font-style="normal" text-anchor="start" >0</text>
<text x="206.8" y="282.90000000000003" font-size="10" fill="#f21818" font-weight="normal" font-style="normal" text-anchor="start" >4</text>
<text x="206.8" y="254.99999999999997" font-size="10" fill="#f21818" font-weight="normal" font-style="normal" text-anchor="start" >8</text>
<text x="206.8" y="227.1" font-size="10" fill="#f21818" font-weight="normal" font-style="normal" text-anchor="start" >12</text>
<text x="206.8" y="199.2" font-size="10" fill="#f21818" font-weight="normal" font-style="normal" text-anchor="start" >16</text>
<text transform="translate(8.7,258.7) scale(1.08,1) rotate(-90)" x="0" y="0" font-size="10" fill="#000" font-weight="normal" font-style="normal" text-anchor="middle">Current (A)</text>
<text transform="translate(232.7,258.8) scale(1.08,1) rotate(-90)" x="0" y="0" font-size="10" fill="#f21818" font-weight="normal" font-style="normal" text-anchor="middle">Resistance (Ω)</text>
<text x="124.6" y="348.2" font-size="10" fill="#000" font-weight="normal" font-style="normal" text-anchor="middle" >Voltage (V)</text>
<text x="124.9" y="190.6" font-size="10" fill="#000" font-weight="bold" font-style="normal" text-anchor="middle" >OFP-G method</text>
<path d="M53.00,301.45 L55.86,300.36 L58.73,299.22 L61.59,298.03 L64.46,296.78 L67.32,295.47 L70.18,294.11 L73.05,292.70 L75.91,291.23 L78.78,289.70 L81.64,288.12 L84.50,286.49 L87.37,284.80 L90.23,283.06 L93.10,281.26 L95.96,279.42 L98.82,277.53 L101.69,275.60 L104.55,273.63 L107.42,271.61 L110.28,269.57 L113.14,267.49 L116.01,265.39 L118.87,263.27 L121.74,261.14 L124.60,259.00 L127.46,256.86 L130.33,254.74 L133.19,252.63 L136.06,250.55 L138.92,248.49 L141.78,246.47 L144.65,244.49 L147.51,242.55 L150.38,240.66 L153.24,238.81 L156.10,237.01 L158.97,235.26 L161.83,233.57 L164.70,231.93 L167.56,230.34 L170.42,228.81 L173.29,227.34 L176.15,225.92 L179.02,224.56 L181.88,223.25 L184.74,222.00 L187.61,220.80 L190.47,219.66 L193.34,218.57 L196.20,217.53" stroke="#666" stroke-width="0.3" fill="none"/>
<path d="M53.00,310.57 L55.86,309.14 L58.73,307.66 L61.59,306.12 L64.46,304.54 L67.32,302.91 L70.18,301.22 L73.05,299.49 L75.91,297.69 L78.78,295.85 L81.64,293.94 L84.50,291.98 L87.37,289.97 L90.23,287.89 L93.10,285.76 L95.96,283.58 L98.82,281.33 L101.69,279.04 L104.55,276.68 L107.42,274.28 L110.28,271.82 L113.14,269.32 L116.01,266.78 L118.87,264.21 L121.74,261.61 L124.60,259.00 L127.46,256.39 L130.33,253.79 L133.19,251.22 L136.06,248.68 L138.92,246.18 L141.78,243.72 L144.65,241.32 L147.51,238.96 L150.38,236.67 L153.24,234.42 L156.10,232.24 L158.97,230.11 L161.83,228.03 L164.70,226.02 L167.56,224.06 L170.42,222.15 L173.29,220.31 L176.15,218.51 L179.02,216.78 L181.88,215.09 L184.74,213.46 L187.61,211.88 L190.47,210.34 L193.34,208.86 L196.20,207.43" stroke="#444" stroke-width="0.4" fill="none"/>
<path d="M51.80,300.25 h2.4 v2.4 h-2.4 Z M54.66,299.16 h2.4 v2.4 h-2.4 Z M57.53,298.02 h2.4 v2.4 h-2.4 Z M60.39,296.83 h2.4 v2.4 h-2.4 Z M63.26,295.58 h2.4 v2.4 h-2.4 Z M66.12,294.27 h2.4 v2.4 h-2.4 Z M68.98,292.91 h2.4 v2.4 h-2.4 Z M71.85,291.50 h2.4 v2.4 h-2.4 Z M74.71,290.03 h2.4 v2.4 h-2.4 Z M77.58,288.50 h2.4 v2.4 h-2.4 Z M80.44,286.92 h2.4 v2.4 h-2.4 Z M83.30,285.29 h2.4 v2.4 h-2.4 Z M86.17,283.60 h2.4 v2.4 h-2.4 Z M89.03,281.86 h2.4 v2.4 h-2.4 Z M91.90,280.06 h2.4 v2.4 h-2.4 Z M94.76,278.22 h2.4 v2.4 h-2.4 Z M97.62,276.33 h2.4 v2.4 h-2.4 Z M100.49,274.40 h2.4 v2.4 h-2.4 Z M103.35,272.43 h2.4 v2.4 h-2.4 Z M106.22,270.41 h2.4 v2.4 h-2.4 Z M109.08,268.37 h2.4 v2.4 h-2.4 Z M111.94,266.29 h2.4 v2.4 h-2.4 Z M114.81,264.19 h2.4 v2.4 h-2.4 Z M117.67,262.07 h2.4 v2.4 h-2.4 Z M120.54,259.94 h2.4 v2.4 h-2.4 Z M123.40,257.80 h2.4 v2.4 h-2.4 Z M126.26,255.66 h2.4 v2.4 h-2.4 Z M129.13,253.54 h2.4 v2.4 h-2.4 Z M131.99,251.43 h2.4 v2.4 h-2.4 Z M134.86,249.35 h2.4 v2.4 h-2.4 Z M137.72,247.29 h2.4 v2.4 h-2.4 Z M140.58,245.27 h2.4 v2.4 h-2.4 Z M143.45,243.29 h2.4 v2.4 h-2.4 Z M146.31,241.35 h2.4 v2.4 h-2.4 Z M149.18,239.46 h2.4 v2.4 h-2.4 Z M152.04,237.61 h2.4 v2.4 h-2.4 Z M154.90,235.81 h2.4 v2.4 h-2.4 Z M157.77,234.06 h2.4 v2.4 h-2.4 Z M160.63,232.37 h2.4 v2.4 h-2.4 Z M163.50,230.73 h2.4 v2.4 h-2.4 Z M166.36,229.14 h2.4 v2.4 h-2.4 Z M169.22,227.61 h2.4 v2.4 h-2.4 Z M172.09,226.14 h2.4 v2.4 h-2.4 Z M174.95,224.72 h2.4 v2.4 h-2.4 Z M177.82,223.36 h2.4 v2.4 h-2.4 Z M180.68,222.05 h2.4 v2.4 h-2.4 Z M183.54,220.80 h2.4 v2.4 h-2.4 Z M186.41,219.60 h2.4 v2.4 h-2.4 Z M189.27,218.46 h2.4 v2.4 h-2.4 Z M192.14,217.37 h2.4 v2.4 h-2.4 Z M195.00,216.33 h2.4 v2.4 h-2.4 Z" stroke="#2a2a2a" stroke-width="0.55" fill="none"/>
<path d="M51.65,309.22 l2.7,2.7 M51.65,311.92 l2.7,-2.7 M54.51,307.79 l2.7,2.7 M54.51,310.49 l2.7,-2.7 M57.38,306.31 l2.7,2.7 M57.38,309.01 l2.7,-2.7 M60.24,304.77 l2.7,2.7 M60.24,307.47 l2.7,-2.7 M63.11,303.19 l2.7,2.7 M63.11,305.89 l2.7,-2.7 M65.97,301.56 l2.7,2.7 M65.97,304.26 l2.7,-2.7 M68.83,299.87 l2.7,2.7 M68.83,302.57 l2.7,-2.7 M71.70,298.14 l2.7,2.7 M71.70,300.84 l2.7,-2.7 M74.56,296.34 l2.7,2.7 M74.56,299.04 l2.7,-2.7 M77.43,294.50 l2.7,2.7 M77.43,297.20 l2.7,-2.7 M80.29,292.59 l2.7,2.7 M80.29,295.29 l2.7,-2.7 M83.15,290.63 l2.7,2.7 M83.15,293.33 l2.7,-2.7 M86.02,288.62 l2.7,2.7 M86.02,291.32 l2.7,-2.7 M88.88,286.54 l2.7,2.7 M88.88,289.24 l2.7,-2.7 M91.75,284.41 l2.7,2.7 M91.75,287.11 l2.7,-2.7 M94.61,282.23 l2.7,2.7 M94.61,284.93 l2.7,-2.7 M97.47,279.98 l2.7,2.7 M97.47,282.68 l2.7,-2.7 M100.34,277.69 l2.7,2.7 M100.34,280.39 l2.7,-2.7 M103.20,275.33 l2.7,2.7 M103.20,278.03 l2.7,-2.7 M106.07,272.93 l2.7,2.7 M106.07,275.63 l2.7,-2.7 M108.93,270.47 l2.7,2.7 M108.93,273.17 l2.7,-2.7 M111.79,267.97 l2.7,2.7 M111.79,270.67 l2.7,-2.7 M114.66,265.43 l2.7,2.7 M114.66,268.13 l2.7,-2.7 M117.52,262.86 l2.7,2.7 M117.52,265.56 l2.7,-2.7 M120.39,260.26 l2.7,2.7 M120.39,262.96 l2.7,-2.7 M123.25,257.65 l2.7,2.7 M123.25,260.35 l2.7,-2.7 M126.11,255.04 l2.7,2.7 M126.11,257.74 l2.7,-2.7 M128.98,252.44 l2.7,2.7 M128.98,255.14 l2.7,-2.7 M131.84,249.87 l2.7,2.7 M131.84,252.57 l2.7,-2.7 M134.71,247.33 l2.7,2.7 M134.71,250.03 l2.7,-2.7 M137.57,244.83 l2.7,2.7 M137.57,247.53 l2.7,-2.7 M140.43,242.37 l2.7,2.7 M140.43,245.07 l2.7,-2.7 M143.30,239.97 l2.7,2.7 M143.30,242.67 l2.7,-2.7 M146.16,237.61 l2.7,2.7 M146.16,240.31 l2.7,-2.7 M149.03,235.32 l2.7,2.7 M149.03,238.02 l2.7,-2.7 M151.89,233.07 l2.7,2.7 M151.89,235.77 l2.7,-2.7 M154.75,230.89 l2.7,2.7 M154.75,233.59 l2.7,-2.7 M157.62,228.76 l2.7,2.7 M157.62,231.46 l2.7,-2.7 M160.48,226.68 l2.7,2.7 M160.48,229.38 l2.7,-2.7 M163.35,224.67 l2.7,2.7 M163.35,227.37 l2.7,-2.7 M166.21,222.71 l2.7,2.7 M166.21,225.41 l2.7,-2.7 M169.07,220.80 l2.7,2.7 M169.07,223.50 l2.7,-2.7 M171.94,218.96 l2.7,2.7 M171.94,221.66 l2.7,-2.7 M174.80,217.16 l2.7,2.7 M174.80,219.86 l2.7,-2.7 M177.67,215.43 l2.7,2.7 M177.67,218.13 l2.7,-2.7 M180.53,213.74 l2.7,2.7 M180.53,216.44 l2.7,-2.7 M183.39,212.11 l2.7,2.7 M183.39,214.81 l2.7,-2.7 M186.26,210.53 l2.7,2.7 M186.26,213.23 l2.7,-2.7 M189.12,208.99 l2.7,2.7 M189.12,211.69 l2.7,-2.7 M191.99,207.51 l2.7,2.7 M191.99,210.21 l2.7,-2.7 M194.85,206.08 l2.7,2.7 M194.85,208.78 l2.7,-2.7" stroke="#111" stroke-width="0.65" fill="none"/>
<path d="M121.74,232.01 L124.60,307.20 L127.46,231.92" stroke="#ff5050" stroke-width="0.6" fill="none"/>
<path d="M52.00,211.52 h2.0 v2.0 h-2.0 Z M54.86,212.91 h2.0 v2.0 h-2.0 Z M57.73,214.26 h2.0 v2.0 h-2.0 Z M60.59,215.57 h2.0 v2.0 h-2.0 Z M63.46,216.83 h2.0 v2.0 h-2.0 Z M66.32,218.04 h2.0 v2.0 h-2.0 Z M69.18,219.20 h2.0 v2.0 h-2.0 Z M72.05,220.32 h2.0 v2.0 h-2.0 Z M74.91,221.39 h2.0 v2.0 h-2.0 Z M77.78,222.42 h2.0 v2.0 h-2.0 Z M80.64,223.39 h2.0 v2.0 h-2.0 Z M83.50,224.31 h2.0 v2.0 h-2.0 Z M86.37,225.18 h2.0 v2.0 h-2.0 Z M89.23,226.00 h2.0 v2.0 h-2.0 Z M92.10,226.76 h2.0 v2.0 h-2.0 Z M94.96,227.47 h2.0 v2.0 h-2.0 Z M97.82,228.12 h2.0 v2.0 h-2.0 Z M100.69,228.72 h2.0 v2.0 h-2.0 Z M103.55,229.25 h2.0 v2.0 h-2.0 Z M106.42,229.72 h2.0 v2.0 h-2.0 Z M109.28,230.13 h2.0 v2.0 h-2.0 Z M112.14,230.47 h2.0 v2.0 h-2.0 Z M115.01,230.73 h2.0 v2.0 h-2.0 Z M117.87,230.91 h2.0 v2.0 h-2.0 Z M120.74,231.01 h2.0 v2.0 h-2.0 Z M126.46,230.92 h2.0 v2.0 h-2.0 Z M129.33,230.73 h2.0 v2.0 h-2.0 Z M132.19,230.46 h2.0 v2.0 h-2.0 Z M135.06,230.11 h2.0 v2.0 h-2.0 Z M137.92,229.68 h2.0 v2.0 h-2.0 Z M140.78,229.19 h2.0 v2.0 h-2.0 Z M143.65,228.63 h2.0 v2.0 h-2.0 Z M146.51,228.00 h2.0 v2.0 h-2.0 Z M149.38,227.32 h2.0 v2.0 h-2.0 Z M152.24,226.58 h2.0 v2.0 h-2.0 Z M155.10,225.78 h2.0 v2.0 h-2.0 Z M157.97,224.93 h2.0 v2.0 h-2.0 Z M160.83,224.02 h2.0 v2.0 h-2.0 Z M163.70,223.06 h2.0 v2.0 h-2.0 Z M166.56,222.05 h2.0 v2.0 h-2.0 Z M169.42,220.99 h2.0 v2.0 h-2.0 Z M172.29,219.88 h2.0 v2.0 h-2.0 Z M175.15,218.72 h2.0 v2.0 h-2.0 Z M178.02,217.51 h2.0 v2.0 h-2.0 Z M180.88,216.25 h2.0 v2.0 h-2.0 Z M183.74,214.95 h2.0 v2.0 h-2.0 Z M186.61,213.60 h2.0 v2.0 h-2.0 Z M189.47,212.21 h2.0 v2.0 h-2.0 Z M192.34,210.77 h2.0 v2.0 h-2.0 Z M195.20,209.29 h2.0 v2.0 h-2.0 Z" stroke="#ff4a4a" stroke-width="0.45" fill="#fff"/>
<path d="M51.85,228.12 l2.3,2.3 M51.85,230.42 l2.3,-2.3 M51.62,229.27 h2.76 M54.71,229.09 l2.3,2.3 M54.71,231.39 l2.3,-2.3 M54.48,230.24 h2.76 M57.58,230.05 l2.3,2.3 M57.58,232.35 l2.3,-2.3 M57.35,231.20 h2.76 M60.44,230.99 l2.3,2.3 M60.44,233.29 l2.3,-2.3 M60.21,232.14 h2.76 M63.31,231.92 l2.3,2.3 M63.31,234.22 l2.3,-2.3 M63.08,233.07 h2.76 M66.17,232.82 l2.3,2.3 M66.17,235.12 l2.3,-2.3 M65.94,233.97 h2.76 M69.03,233.71 l2.3,2.3 M69.03,236.01 l2.3,-2.3 M68.80,234.86 h2.76 M71.90,234.57 l2.3,2.3 M71.90,236.87 l2.3,-2.3 M71.67,235.72 h2.76 M74.76,235.41 l2.3,2.3 M74.76,237.71 l2.3,-2.3 M74.53,236.56 h2.76 M77.63,236.24 l2.3,2.3 M77.63,238.54 l2.3,-2.3 M77.40,237.39 h2.76 M80.49,237.03 l2.3,2.3 M80.49,239.33 l2.3,-2.3 M80.26,238.18 h2.76 M83.35,237.81 l2.3,2.3 M83.35,240.11 l2.3,-2.3 M83.12,238.96 h2.76 M86.22,238.56 l2.3,2.3 M86.22,240.86 l2.3,-2.3 M85.99,239.71 h2.76 M89.08,239.28 l2.3,2.3 M89.08,241.58 l2.3,-2.3 M88.85,240.43 h2.76 M91.95,239.97 l2.3,2.3 M91.95,242.27 l2.3,-2.3 M91.72,241.12 h2.76 M94.81,240.63 l2.3,2.3 M94.81,242.93 l2.3,-2.3 M94.58,241.78 h2.76 M97.67,241.26 l2.3,2.3 M97.67,243.56 l2.3,-2.3 M97.44,242.41 h2.76 M100.54,241.85 l2.3,2.3 M100.54,244.15 l2.3,-2.3 M100.31,243.00 h2.76 M103.40,242.40 l2.3,2.3 M103.40,244.70 l2.3,-2.3 M103.17,243.55 h2.76 M106.27,242.91 l2.3,2.3 M106.27,245.21 l2.3,-2.3 M106.04,244.06 h2.76 M109.13,243.36 l2.3,2.3 M109.13,245.66 l2.3,-2.3 M108.90,244.51 h2.76 M111.99,243.76 l2.3,2.3 M111.99,246.06 l2.3,-2.3 M111.76,244.91 h2.76 M114.86,244.08 l2.3,2.3 M114.86,246.38 l2.3,-2.3 M114.63,245.23 h2.76 M117.72,244.33 l2.3,2.3 M117.72,246.63 l2.3,-2.3 M117.49,245.48 h2.76 M120.59,244.48 l2.3,2.3 M120.59,246.78 l2.3,-2.3 M120.36,245.63 h2.76 M123.45,244.53 l2.3,2.3 M123.45,246.83 l2.3,-2.3 M123.22,245.68 h2.76 M126.31,244.48 l2.3,2.3 M126.31,246.78 l2.3,-2.3 M126.08,245.63 h2.76 M129.18,244.33 l2.3,2.3 M129.18,246.63 l2.3,-2.3 M128.95,245.48 h2.76 M132.04,244.08 l2.3,2.3 M132.04,246.38 l2.3,-2.3 M131.81,245.23 h2.76 M134.91,243.76 l2.3,2.3 M134.91,246.06 l2.3,-2.3 M134.68,244.91 h2.76 M137.77,243.36 l2.3,2.3 M137.77,245.66 l2.3,-2.3 M137.54,244.51 h2.76 M140.63,242.91 l2.3,2.3 M140.63,245.21 l2.3,-2.3 M140.40,244.06 h2.76 M143.50,242.40 l2.3,2.3 M143.50,244.70 l2.3,-2.3 M143.27,243.55 h2.76 M146.36,241.85 l2.3,2.3 M146.36,244.15 l2.3,-2.3 M146.13,243.00 h2.76 M149.23,241.26 l2.3,2.3 M149.23,243.56 l2.3,-2.3 M149.00,242.41 h2.76 M152.09,240.63 l2.3,2.3 M152.09,242.93 l2.3,-2.3 M151.86,241.78 h2.76 M154.95,239.97 l2.3,2.3 M154.95,242.27 l2.3,-2.3 M154.72,241.12 h2.76 M157.82,239.28 l2.3,2.3 M157.82,241.58 l2.3,-2.3 M157.59,240.43 h2.76 M160.68,238.56 l2.3,2.3 M160.68,240.86 l2.3,-2.3 M160.45,239.71 h2.76 M163.55,237.81 l2.3,2.3 M163.55,240.11 l2.3,-2.3 M163.32,238.96 h2.76 M166.41,237.03 l2.3,2.3 M166.41,239.33 l2.3,-2.3 M166.18,238.18 h2.76 M169.27,236.24 l2.3,2.3 M169.27,238.54 l2.3,-2.3 M169.04,237.39 h2.76 M172.14,235.41 l2.3,2.3 M172.14,237.71 l2.3,-2.3 M171.91,236.56 h2.76 M175.00,234.57 l2.3,2.3 M175.00,236.87 l2.3,-2.3 M174.77,235.72 h2.76 M177.87,233.71 l2.3,2.3 M177.87,236.01 l2.3,-2.3 M177.64,234.86 h2.76 M180.73,232.82 l2.3,2.3 M180.73,235.12 l2.3,-2.3 M180.50,233.97 h2.76 M183.59,231.92 l2.3,2.3 M183.59,234.22 l2.3,-2.3 M183.36,233.07 h2.76 M186.46,230.99 l2.3,2.3 M186.46,233.29 l2.3,-2.3 M186.23,232.14 h2.76 M189.32,230.05 l2.3,2.3 M189.32,232.35 l2.3,-2.3 M189.09,231.20 h2.76 M192.19,229.09 l2.3,2.3 M192.19,231.39 l2.3,-2.3 M191.96,230.24 h2.76 M195.05,228.12 l2.3,2.3 M195.05,230.42 l2.3,-2.3 M194.82,229.27 h2.76" stroke="#ff2a2a" stroke-width="0.65" fill="none"/>
<rect x="123.50" y="306.10" width="2.2" height="2.2" fill="#ff5050"/>
<rect x="149.4" y="293.4" width="47.6" height="22.4" fill="#fff" stroke="#aaa" stroke-width="0.6"/>
<path d="M151,299.2 H170 M151,309.6 H170" stroke="#bbb" stroke-width="0.6"/>
<rect x="158.4" y="296.9" width="4.6" height="4.6" fill="#fff" stroke="#444" stroke-width="0.7"/>
<path d="M158.50,307.20 l4.8,4.8 M158.50,312.00 l4.8,-4.8" stroke="#222" stroke-width="0.7" fill="none"/>
<circle cx="160.9" cy="309.6" r="0.9" fill="#111"/>
<text x="171.9" y="302.6" font-size="8.6" fill="#000" font-weight="normal" font-style="normal" text-anchor="start" >5 μm</text>
<text x="171.9" y="312.8" font-size="8.6" fill="#000" font-weight="normal" font-style="normal" text-anchor="start" >20 μm</text>
<rect x="296.07" y="317.35" width="17.37" height="3.55" fill="#9f7791" stroke="#eadde6" stroke-width="0.5"/>
<rect x="313.43" y="281.85" width="17.37" height="39.05" fill="#9f7791" stroke="#eadde6" stroke-width="0.5"/>
<rect x="330.80" y="257.00" width="17.37" height="63.90" fill="#9f7791" stroke="#eadde6" stroke-width="0.5"/>
<rect x="348.16" y="214.40" width="17.37" height="106.50" fill="#9f7791" stroke="#eadde6" stroke-width="0.5"/>
<rect x="365.53" y="249.90" width="17.37" height="71.00" fill="#9f7791" stroke="#eadde6" stroke-width="0.5"/>
<rect x="382.90" y="271.20" width="17.37" height="49.70" fill="#9f7791" stroke="#eadde6" stroke-width="0.5"/>
<rect x="400.26" y="299.60" width="17.37" height="21.30" fill="#9f7791" stroke="#eadde6" stroke-width="0.5"/>
<rect x="334.27" y="302.08" width="2.17" height="18.81" fill="#2fa3a1" stroke="#e4f4f4" stroke-width="0.45"/>
<rect x="336.44" y="285.40" width="2.17" height="35.50" fill="#2fa3a1" stroke="#e4f4f4" stroke-width="0.45"/>
<rect x="338.61" y="253.45" width="2.17" height="67.45" fill="#2fa3a1" stroke="#e4f4f4" stroke-width="0.45"/>
<rect x="340.78" y="228.60" width="2.17" height="92.30" fill="#2fa3a1" stroke="#e4f4f4" stroke-width="0.45"/>
<rect x="342.95" y="235.70" width="2.17" height="85.20" fill="#2fa3a1" stroke="#e4f4f4" stroke-width="0.45"/>
<rect x="345.12" y="260.55" width="2.17" height="60.35" fill="#2fa3a1" stroke="#e4f4f4" stroke-width="0.45"/>
<rect x="347.30" y="288.95" width="2.17" height="31.95" fill="#2fa3a1" stroke="#e4f4f4" stroke-width="0.45"/>
<rect x="349.47" y="310.25" width="2.17" height="10.65" fill="#2fa3a1" stroke="#e4f4f4" stroke-width="0.45"/>
<path d="M304.75,314.42 L305.18,314.15 L305.62,313.87 L306.05,313.58 L306.49,313.27 L306.92,312.96 L307.35,312.64 L307.79,312.31 L308.22,311.97 L308.66,311.61 L309.09,311.25 L309.52,310.88 L309.96,310.49 L310.39,310.09 L310.83,309.68 L311.26,309.26 L311.70,308.83 L312.13,308.39 L312.56,307.93 L313.00,307.46 L313.43,306.98 L313.87,306.48 L314.30,305.97 L314.73,305.45 L315.17,304.92 L315.60,304.37 L316.04,303.81 L316.47,303.24 L316.91,302.65 L317.34,302.05 L317.77,301.44 L318.21,300.81 L318.64,300.17 L319.08,299.52 L319.51,298.85 L319.94,298.17 L320.38,297.47 L320.81,296.76 L321.25,296.04 L321.68,295.30 L322.11,294.55 L322.55,293.79 L322.98,293.01 L323.42,292.23 L323.85,291.42 L324.29,290.61 L324.72,289.78 L325.15,288.94 L325.59,288.09 L326.02,287.23 L326.46,286.35 L326.89,285.46 L327.32,284.57 L327.76,283.66 L328.19,282.74 L328.63,281.81 L329.06,280.87 L329.50,279.92 L329.93,278.96 L330.36,277.99 L330.80,277.02 L331.23,276.03 L331.67,275.04 L332.10,274.04 L332.53,273.04 L332.97,272.03 L333.40,271.01 L333.84,269.99 L334.27,268.97 L334.71,267.94 L335.14,266.91 L335.57,265.88 L336.01,264.84 L336.44,263.80 L336.88,262.76 L337.31,261.73 L337.74,260.69 L338.18,259.65 L338.61,258.62 L339.05,257.59 L339.48,256.56 L339.92,255.54 L340.35,254.52 L340.78,253.50 L341.22,252.50 L341.65,251.50 L342.09,250.51 L342.52,249.52 L342.95,248.55 L343.39,247.58 L343.82,246.63 L344.26,245.69 L344.69,244.76 L345.12,243.85 L345.56,242.94 L345.99,242.06 L346.43,241.18 L346.86,240.33 L347.30,239.49 L347.73,238.67 L348.16,237.86 L348.60,237.08 L349.03,236.31 L349.47,235.57 L349.90,234.84 L350.33,234.14 L350.77,233.46 L351.20,232.80 L351.64,232.17 L352.07,231.56 L352.51,230.97 L352.94,230.41 L353.37,229.88 L353.81,229.37 L354.24,228.88 L354.68,228.43 L355.11,228.00 L355.54,227.60 L355.98,227.23 L356.41,226.88 L356.85,226.57 L357.28,226.28 L357.72,226.02 L358.15,225.80 L358.58,225.60 L359.02,225.43 L359.45,225.29 L359.89,225.19 L360.32,225.11 L360.75,225.07 L361.19,225.05 L361.62,225.07 L362.06,225.11 L362.49,225.19 L362.93,225.29 L363.36,225.43 L363.79,225.60 L364.23,225.80 L364.66,226.02 L365.10,226.28 L365.53,226.57 L365.96,226.88 L366.40,227.23 L366.83,227.60 L367.27,228.00 L367.70,228.43 L368.13,228.88 L368.57,229.37 L369.00,229.88 L369.44,230.41 L369.87,230.97 L370.31,231.56 L370.74,232.17 L371.17,232.80 L371.61,233.46 L372.04,234.14 L372.48,234.84 L372.91,235.57 L373.34,236.31 L373.78,237.08 L374.21,237.86 L374.65,238.67 L375.08,239.49 L375.52,240.33 L375.95,241.18 L376.38,242.06 L376.82,242.94 L377.25,243.85 L377.69,244.76 L378.12,245.69 L378.55,246.63 L378.99,247.58 L379.42,248.55 L379.86,249.52 L380.29,250.51 L380.73,251.50 L381.16,252.50 L381.59,253.50 L382.03,254.52 L382.46,255.54 L382.90,256.56 L383.33,257.59 L383.76,258.62 L384.20,259.65 L384.63,260.69 L385.07,261.73 L385.50,262.76 L385.94,263.80 L386.37,264.84 L386.80,265.88 L387.24,266.91 L387.67,267.94 L388.11,268.97 L388.54,269.99 L388.97,271.01 L389.41,272.03 L389.84,273.04 L390.28,274.04 L390.71,275.04 L391.14,276.03 L391.58,277.02 L392.01,277.99 L392.45,278.96 L392.88,279.92 L393.32,280.87 L393.75,281.81 L394.18,282.74 L394.62,283.66 L395.05,284.57 L395.49,285.46 L395.92,286.35 L396.35,287.23 L396.79,288.09 L397.22,288.94 L397.66,289.78 L398.09,290.61 L398.53,291.42 L398.96,292.23 L399.39,293.01 L399.83,293.79 L400.26,294.55 L400.70,295.30 L401.13,296.04 L401.56,296.76 L402.00,297.47 L402.43,298.17 L402.87,298.85 L403.30,299.52 L403.74,300.17 L404.17,300.81 L404.60,301.44 L405.04,302.05 L405.47,302.65 L405.91,303.24 L406.34,303.81 L406.77,304.37 L407.21,304.92 L407.64,305.45 L408.08,305.97 L408.51,306.48 L408.95,306.98" stroke="#1a1aff" stroke-width="1.7" fill="none" stroke-dasharray="2.5,2.3"/>
<path d="M335.57,303.61 L335.75,302.11 L335.92,300.53 L336.09,298.85 L336.27,297.09 L336.44,295.23 L336.62,293.28 L336.79,291.25 L336.96,289.12 L337.14,286.92 L337.31,284.63 L337.48,282.26 L337.66,279.82 L337.83,277.31 L338.00,274.74 L338.18,272.12 L338.35,269.45 L338.53,266.74 L338.70,263.99 L338.87,261.23 L339.05,258.46 L339.22,255.68 L339.39,252.92 L339.57,250.18 L339.74,247.48 L339.92,244.82 L340.09,242.22 L340.26,239.70 L340.44,237.25 L340.61,234.91 L340.78,232.67 L340.96,230.56 L341.13,228.57 L341.30,226.73 L341.48,225.04 L341.65,223.51 L341.83,222.16 L342.00,220.98 L342.17,219.99 L342.35,219.19 L342.52,218.58 L342.69,218.18 L342.87,217.98 L343.04,217.98 L343.21,218.18 L343.39,218.58 L343.56,219.19 L343.74,219.99 L343.91,220.98 L344.08,222.16 L344.26,223.51 L344.43,225.04 L344.60,226.73 L344.78,228.57 L344.95,230.56 L345.12,232.67 L345.30,234.91 L345.47,237.25 L345.65,239.70 L345.82,242.22 L345.99,244.82 L346.17,247.48 L346.34,250.18 L346.51,252.92 L346.69,255.68 L346.86,258.46 L347.04,261.23 L347.21,263.99 L347.38,266.74 L347.56,269.45 L347.73,272.12 L347.90,274.74 L348.08,277.31 L348.25,279.82 L348.42,282.26 L348.60,284.63 L348.77,286.92 L348.95,289.12 L349.12,291.25 L349.29,293.28 L349.47,295.23 L349.64,297.09 L349.81,298.85 L349.99,300.53 L350.16,302.11 L350.33,303.61 L350.51,305.02 L350.68,306.34" stroke="#f01818" stroke-width="1.5" fill="none"/>
<path d="M278.7,195.5 H435.0 V320.9 H278.7 Z" stroke="#111" stroke-width="1.35" fill="none"/>
<path d="M278.7,320.90 H281.09999999999997 M278.7,303.15 H280.3 M278.7,285.40 H281.09999999999997 M278.7,267.65 H280.3 M278.7,249.90 H281.09999999999997 M278.7,232.15 H280.3 M278.7,214.40 H281.09999999999997 M278.7,196.65 H280.3 M283.04,320.9 V319.29999999999995 M304.75,320.9 V318.5 M326.46,320.9 V319.29999999999995 M348.16,320.9 V318.5 M369.87,320.9 V319.29999999999995 M391.58,320.9 V318.5 M413.29,320.9 V319.29999999999995" stroke="#111" stroke-width="0.9"/>
<text x="274.3" y="324.5" font-size="10" fill="#000" font-weight="normal" font-style="normal" text-anchor="end" >0</text>
<text x="274.3" y="289.0" font-size="10" fill="#000" font-weight="normal" font-style="normal" text-anchor="end" >10</text>
<text x="274.3" y="253.49999999999997" font-size="10" fill="#000" font-weight="normal" font-style="normal" text-anchor="end" >20</text>
<text x="274.3" y="217.99999999999997" font-size="10" fill="#000" font-weight="normal" font-style="normal" text-anchor="end" >30</text>
<text x="304.74899999999997" y="334.3" font-size="10" fill="#000" font-weight="normal" font-style="normal" text-anchor="middle" >5</text>
<text x="348.164" y="334.3" font-size="10" fill="#000" font-weight="normal" font-style="normal" text-anchor="middle" >10</text>
<text x="391.57899999999995" y="334.3" font-size="10" fill="#000" font-weight="normal" font-style="normal" text-anchor="middle" >15</text>
<text x="434.99399999999997" y="334.3" font-size="10" fill="#000" font-weight="normal" font-style="normal" text-anchor="middle" >20</text>
<text transform="translate(256.5,258.2) scale(1.08,1) rotate(-90)" x="0" y="0" font-size="10" fill="#000" font-weight="normal" font-style="normal" text-anchor="middle">Counts</text>
<text x="356.7" y="348.2" font-size="10" fill="#000" font-weight="normal" font-style="normal" text-anchor="middle" >Resistance (Ω)</text>
<path d="M314.9,204.2 H326.6" stroke="#1a1aff" stroke-width="1.3" stroke-dasharray="4.9,1.7"/>
<path d="M354.9,204.2 H367" stroke="#f01818" stroke-width="1.4"/>
<text x="331" y="206.8" font-size="8.5" fill="#000" font-weight="normal" font-style="normal" text-anchor="start" >5 μm</text>
<text x="371.9" y="206.8" font-size="8.5" fill="#000" font-weight="normal" font-style="normal" text-anchor="start" >20 μm</text>
<text x="286" y="236.3" font-size="9.8" fill="#f01818" font-weight="bold" font-style="normal" text-anchor="start" >9.4 ± 0.4</text>
<path d="M327.5,232.8 H337.4" stroke="#f01818" stroke-width="1"/><path d="M326.5,232.8 L330.5,230.8 L330.5,234.8 Z" fill="#f01818"/>
<text x="389.9" y="241.3" font-size="9.7" fill="#1a1aff" font-weight="bold" font-style="normal" text-anchor="start" >11.5 ± 2.8</text>
<path d="M378.7,239.8 H387.5" stroke="#1a1aff" stroke-width="1"/><path d="M389.2,239.8 L385.2,237.8 L385.2,241.8 Z" fill="#1a1aff"/>
<path d="M506.0,196.8 H661.3 M506.0,196.8 V321.2 H661.3" stroke="#111" stroke-width="1.35" fill="none"/>
<path d="M661.3,196.25 V321.75" stroke="#000" stroke-width="1.35" fill="none"/>
<path d="M506.0,316.20 H507.6 M506.0,304.80 H508.4 M506.0,293.40 H507.6 M506.0,282.00 H508.4 M506.0,270.60 H507.6 M506.0,259.20 H508.4 M506.0,247.80 H507.6 M506.0,236.40 H508.4 M506.0,225.00 H507.6 M506.0,213.60 H508.4 M506.0,202.20 H507.6 M512.50,321.2 V318.8 M530.29,321.2 V319.59999999999997 M548.07,321.2 V318.8 M565.86,321.2 V319.59999999999997 M583.65,321.2 V318.8 M601.44,321.2 V319.59999999999997 M619.23,321.2 V318.8 M637.01,321.2 V319.59999999999997 M654.80,321.2 V318.8" stroke="#111" stroke-width="0.9"/>
<text x="501.2" y="217.2" font-size="10" fill="#000" font-weight="normal" font-style="normal" text-anchor="end" >0.08</text>
<text x="501.2" y="239.99999999999997" font-size="10" fill="#000" font-weight="normal" font-style="normal" text-anchor="end" >0.04</text>
<text x="501.2" y="262.8" font-size="10" fill="#000" font-weight="normal" font-style="normal" text-anchor="end" >0.00</text>
<text x="501.2" y="285.6" font-size="10" fill="#000" font-weight="normal" font-style="normal" text-anchor="end" >−0.04</text>
<text x="501.2" y="308.40000000000003" font-size="10" fill="#000" font-weight="normal" font-style="normal" text-anchor="end" >−0.08</text>
<text x="512.5" y="334.3" font-size="10" fill="#000" font-weight="normal" font-style="normal" text-anchor="middle" >−1.0</text>
<text x="548.07" y="334.3" font-size="10" fill="#000" font-weight="normal" font-style="normal" text-anchor="middle" >−0.5</text>
<text x="583.65" y="334.3" font-size="10" fill="#000" font-weight="normal" font-style="normal" text-anchor="middle" >0.0</text>
<text x="619.23" y="334.3" font-size="10" fill="#000" font-weight="normal" font-style="normal" text-anchor="middle" >0.5</text>
<text x="654.8" y="334.3" font-size="10" fill="#000" font-weight="normal" font-style="normal" text-anchor="middle" >1.0</text>
<text transform="translate(467.1,258.7) scale(1.08,1) rotate(-90)" x="0" y="0" font-size="10" fill="#000" font-weight="normal" font-style="normal" text-anchor="middle">Current (A)</text>
<text x="583.65" y="348.2" font-size="10" fill="#000" font-weight="normal" font-style="normal" text-anchor="middle" >Voltage (V)</text>
<text x="583.3" y="189.5" font-size="10.1" fill="#000" font-weight="bold" font-style="normal" text-anchor="middle" >General etching method</text>
<rect x="512.50" y="257.9" width="142.30" height="3" fill="#8e1414"/>
<path d="M512.50,259.4 H654.80" stroke="#c04040" stroke-width="0.6" stroke-dasharray="1,1.4"/>
<rect x="621.4" y="298.2" width="35" height="17" fill="#fff" stroke="#999" stroke-width="0.5"/>
<path d="M623.1,303.1 H636.8" stroke="#aaa" stroke-width="0.5"/><circle cx="630" cy="303.1" r="1.45" fill="#111"/>
<path d="M623.1,311 H636.8" stroke="#f6a0a0" stroke-width="0.5"/><path d="M628.6,309.6 l2.8,2.8 M628.6,312.4 l2.8,-2.8" stroke="#f02828" stroke-width="0.9"/>
<text x="639.8" y="305.2" font-size="6.0" fill="#000" font-weight="normal" font-style="normal" text-anchor="start" >5 μm</text>
<text x="639.8" y="313.1" font-size="6.0" fill="#000" font-weight="normal" font-style="normal" text-anchor="start" >20 μm</text>
<rect x="587.4" y="202.2" width="67.10000000000002" height="41.60000000000002" fill="#fff" stroke="#333" stroke-width="0.6"/>
<path d="M594.60,240.94 L595.45,238.35 L596.30,236.45 L597.15,234.67 L598.00,233.02 L598.85,230.37 L599.70,228.39 L600.56,226.77 L601.41,225.01 L602.26,225.60 L603.11,226.06 L603.96,224.52 L604.81,223.49 L605.66,224.90 L606.51,222.17 L607.36,223.73 L608.21,223.42 L609.06,223.74 L609.91,220.24 L610.77,220.79 L611.62,220.03 L612.47,220.58 L613.32,222.20 L614.17,220.91 L615.02,220.03 L615.87,220.99 L616.72,217.89 L617.57,219.52 L618.42,219.92 L619.27,217.40 L620.12,219.39 L620.97,216.41 L621.83,217.67 L622.68,217.03 L623.53,217.42 L624.38,216.63 L625.23,217.31 L626.08,217.50 L626.93,214.42 L627.78,216.21 L628.63,214.08 L629.48,215.67 L630.33,212.83 L631.18,209.79 L632.03,209.94 L632.89,209.60 L633.74,209.89 L634.59,209.08 L635.44,213.77 L636.29,213.70 L637.14,212.22 L637.99,214.00 L638.84,211.28 L639.69,211.08 L640.54,210.93 L641.39,210.77 L642.24,210.17 L643.10,210.07 L643.95,207.73 L644.80,208.25 L645.65,209.14 L646.50,208.61 L647.35,206.21 L648.20,204.98" stroke="#111" stroke-width="0.75" fill="none"/>
<path d="M587.4,233.40 h1.6 M587.4,227.45 h1 M587.4,221.50 h1.6 M587.4,215.55 h1 M587.4,209.60 h1.6 M594.60,243.8 v-1.6 M601.30,243.8 v-1 M608.00,243.8 v-1.6 M614.70,243.8 v-1 M621.40,243.8 v-1.6 M628.10,243.8 v-1 M634.80,243.8 v-1.6 M641.50,243.8 v-1 M648.20,243.8 v-1.6" stroke="#333" stroke-width="0.5"/>
<text x="585.0" y="211.7" font-size="5.9" fill="#000" font-weight="normal" font-style="normal" text-anchor="end" >5E-13</text>
<text x="585.0" y="223.6" font-size="5.9" fill="#000" font-weight="normal" font-style="normal" text-anchor="end" >0</text>
<text x="585.0" y="235.5" font-size="5.9" fill="#000" font-weight="normal" font-style="normal" text-anchor="end" >−5E-13</text>
<text x="594.6" y="250.2" font-size="5.6" fill="#000" font-weight="bold" font-style="normal" text-anchor="middle" >−1.0</text>
<text x="608.0" y="250.2" font-size="5.6" fill="#000" font-weight="bold" font-style="normal" text-anchor="middle" >−0.5</text>
<text x="621.4000000000001" y="250.2" font-size="5.6" fill="#000" font-weight="bold" font-style="normal" text-anchor="middle" >0.0</text>
<text x="634.8000000000001" y="250.2" font-size="5.6" fill="#000" font-weight="bold" font-style="normal" text-anchor="middle" >0.5</text>
<text x="648.2" y="250.2" font-size="5.6" fill="#000" font-weight="bold" font-style="normal" text-anchor="middle" >1.0</text>
<text x="624.4" y="255.6" font-size="5.0" fill="#000" font-weight="normal" font-style="normal" text-anchor="middle" >Voltage (V)</text>
<text transform="translate(561.2,222.6) scale(1.08,1) rotate(-90)" x="0" y="0" font-size="5.6" fill="#000" font-weight="normal" font-style="normal" text-anchor="middle">Current (A)</text>
<rect x="550.2" y="264.6" width="54.19999999999993" height="38.799999999999955" fill="#fff" stroke="#333" stroke-width="0.6"/>
<path d="M555.20,299.13 L555.99,296.92 L556.79,294.32 L557.58,293.95 L558.38,290.78 L559.17,290.16 L559.97,289.87 L560.76,291.83 L561.56,290.15 L562.35,289.98 L563.15,290.05 L563.94,288.33 L564.73,289.36 L565.53,289.29 L566.32,287.43 L567.12,288.03 L567.91,288.70 L568.71,288.30 L569.50,287.35 L570.30,288.33 L571.09,286.24 L571.89,285.45 L572.68,286.01 L573.47,284.32 L574.27,283.68 L575.06,284.43 L575.86,283.66 L576.65,285.02 L577.45,284.84 L578.24,281.64 L579.04,283.43 L579.83,283.31 L580.63,280.89 L581.42,281.03 L582.21,282.66 L583.01,281.77 L583.80,281.74 L584.60,281.39 L585.39,281.96 L586.19,280.13 L586.98,280.58 L587.78,280.09 L588.57,280.52 L589.37,280.56 L590.16,280.61 L590.95,277.85 L591.75,278.06 L592.54,278.47 L593.34,279.65 L594.13,279.42 L594.93,279.35 L595.72,278.60 L596.52,279.26 L597.31,278.45 L598.11,278.54 L598.90,278.43" stroke="#f24a4a" stroke-width="0.55" fill="none"/>
<path d="M554.60,298.53 l1.2,1.2 M554.60,299.73 l1.2,-1.2 M555.39,296.32 l1.2,1.2 M555.39,297.52 l1.2,-1.2 M556.19,293.72 l1.2,1.2 M556.19,294.92 l1.2,-1.2 M556.98,293.35 l1.2,1.2 M556.98,294.55 l1.2,-1.2 M557.78,290.18 l1.2,1.2 M557.78,291.38 l1.2,-1.2 M558.57,289.56 l1.2,1.2 M558.57,290.76 l1.2,-1.2 M559.37,289.27 l1.2,1.2 M559.37,290.47 l1.2,-1.2 M560.16,291.23 l1.2,1.2 M560.16,292.43 l1.2,-1.2 M560.96,289.55 l1.2,1.2 M560.96,290.75 l1.2,-1.2 M561.75,289.38 l1.2,1.2 M561.75,290.58 l1.2,-1.2 M562.55,289.45 l1.2,1.2 M562.55,290.65 l1.2,-1.2 M563.34,287.73 l1.2,1.2 M563.34,288.93 l1.2,-1.2 M564.13,288.76 l1.2,1.2 M564.13,289.96 l1.2,-1.2 M564.93,288.69 l1.2,1.2 M564.93,289.89 l1.2,-1.2 M565.72,286.83 l1.2,1.2 M565.72,288.03 l1.2,-1.2 M566.52,287.43 l1.2,1.2 M566.52,288.63 l1.2,-1.2 M567.31,288.10 l1.2,1.2 M567.31,289.30 l1.2,-1.2 M568.11,287.70 l1.2,1.2 M568.11,288.90 l1.2,-1.2 M568.90,286.75 l1.2,1.2 M568.90,287.95 l1.2,-1.2 M569.70,287.73 l1.2,1.2 M569.70,288.93 l1.2,-1.2 M570.49,285.64 l1.2,1.2 M570.49,286.84 l1.2,-1.2 M571.29,284.85 l1.2,1.2 M571.29,286.05 l1.2,-1.2 M572.08,285.41 l1.2,1.2 M572.08,286.61 l1.2,-1.2 M572.87,283.72 l1.2,1.2 M572.87,284.92 l1.2,-1.2 M573.67,283.08 l1.2,1.2 M573.67,284.28 l1.2,-1.2 M574.46,283.83 l1.2,1.2 M574.46,285.03 l1.2,-1.2 M575.26,283.06 l1.2,1.2 M575.26,284.26 l1.2,-1.2 M576.05,284.42 l1.2,1.2 M576.05,285.62 l1.2,-1.2 M576.85,284.24 l1.2,1.2 M576.85,285.44 l1.2,-1.2 M577.64,281.04 l1.2,1.2 M577.64,282.24 l1.2,-1.2 M578.44,282.83 l1.2,1.2 M578.44,284.03 l1.2,-1.2 M579.23,282.71 l1.2,1.2 M579.23,283.91 l1.2,-1.2 M580.03,280.29 l1.2,1.2 M580.03,281.49 l1.2,-1.2 M580.82,280.43 l1.2,1.2 M580.82,281.63 l1.2,-1.2 M581.61,282.06 l1.2,1.2 M581.61,283.26 l1.2,-1.2 M582.41,281.17 l1.2,1.2 M582.41,282.37 l1.2,-1.2 M583.20,281.14 l1.2,1.2 M583.20,282.34 l1.2,-1.2 M584.00,280.79 l1.2,1.2 M584.00,281.99 l1.2,-1.2 M584.79,281.36 l1.2,1.2 M584.79,282.56 l1.2,-1.2 M585.59,279.53 l1.2,1.2 M585.59,280.73 l1.2,-1.2 M586.38,279.98 l1.2,1.2 M586.38,281.18 l1.2,-1.2 M587.18,279.49 l1.2,1.2 M587.18,280.69 l1.2,-1.2 M587.97,279.92 l1.2,1.2 M587.97,281.12 l1.2,-1.2 M588.77,279.96 l1.2,1.2 M588.77,281.16 l1.2,-1.2 M589.56,280.01 l1.2,1.2 M589.56,281.21 l1.2,-1.2 M590.35,277.25 l1.2,1.2 M590.35,278.45 l1.2,-1.2 M591.15,277.46 l1.2,1.2 M591.15,278.66 l1.2,-1.2 M591.94,277.87 l1.2,1.2 M591.94,279.07 l1.2,-1.2 M592.74,279.05 l1.2,1.2 M592.74,280.25 l1.2,-1.2 M593.53,278.82 l1.2,1.2 M593.53,280.02 l1.2,-1.2 M594.33,278.75 l1.2,1.2 M594.33,279.95 l1.2,-1.2 M595.12,278.00 l1.2,1.2 M595.12,279.20 l1.2,-1.2 M595.92,278.66 l1.2,1.2 M595.92,279.86 l1.2,-1.2 M596.71,277.85 l1.2,1.2 M596.71,279.05 l1.2,-1.2 M597.51,277.94 l1.2,1.2 M597.51,279.14 l1.2,-1.2 M598.30,277.83 l1.2,1.2 M598.30,279.03 l1.2,-1.2" stroke="#f03a3a" stroke-width="0.45" fill="none"/>
<path d="M550.2,296.40 h1.6 M550.2,290.50 h1 M550.2,284.60 h1.6 M550.2,278.70 h1 M550.2,272.80 h1.6 M555.20,303.4 v-1.6 M566.12,303.4 v-1 M577.05,303.4 v-1.6 M587.98,303.4 v-1 M598.90,303.4 v-1.6" stroke="#333" stroke-width="0.5"/>
<text x="546.8" y="274.90000000000003" font-size="5.7" fill="#000" font-weight="normal" font-style="normal" text-anchor="end" >5E-13</text>
<text x="546.8" y="286.70000000000005" font-size="5.7" fill="#000" font-weight="normal" font-style="normal" text-anchor="end" >0</text>
<text x="546.8" y="298.50000000000006" font-size="5.7" fill="#000" font-weight="normal" font-style="normal" text-anchor="end" >−5E-13</text>
<text x="555.2" y="309.9" font-size="5.9" fill="#000" font-weight="normal" font-style="normal" text-anchor="middle" >−1</text>
<text x="577.05" y="309.9" font-size="5.9" fill="#000" font-weight="normal" font-style="normal" text-anchor="middle" >0</text>
<text x="598.9" y="309.9" font-size="5.9" fill="#000" font-weight="normal" font-style="normal" text-anchor="middle" >1</text>
<text x="577.3" y="316.6" font-size="5.3" fill="#000" font-weight="normal" font-style="normal" text-anchor="middle" >Voltage (V)</text>
<text transform="translate(525.4,283.8) scale(1.08,1) rotate(-90)" x="0" y="0" font-size="5.6" fill="#000" font-weight="normal" font-style="normal" text-anchor="middle">Current (A)</text>
</svg></body></html>
